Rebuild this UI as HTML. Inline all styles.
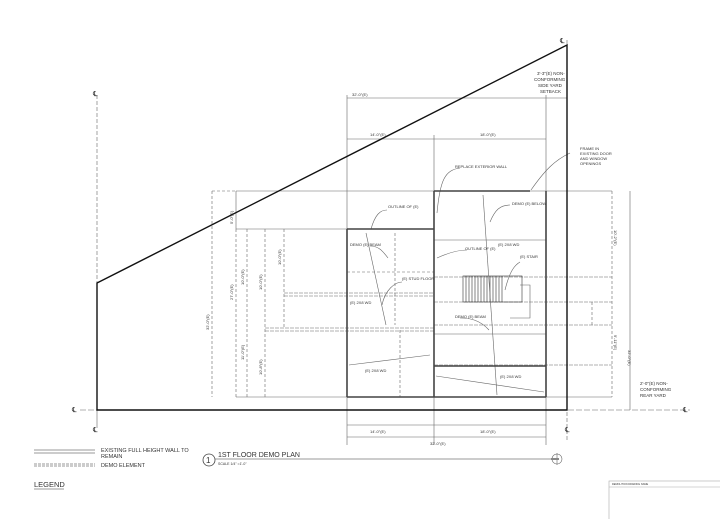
<!DOCTYPE html>
<html><head><style>
html,body{margin:0;padding:0;background:#fff;width:720px;height:519px;overflow:hidden}
svg{display:block}
text{font-family:"Liberation Sans",sans-serif;fill:#333}
</style></head><body>
<svg width="720" height="519" viewBox="0 0 720 519" xmlns="http://www.w3.org/2000/svg">
<g stroke="#666" stroke-width="0.6" fill="none">
<line x1="97" y1="95" x2="97" y2="283" stroke-dasharray="4 2"/>
<line x1="567" y1="40" x2="567" y2="440" stroke-dasharray="4 2"/>
<line x1="80" y1="410" x2="690" y2="410" stroke-dasharray="6 2"/>
<line x1="97" y1="410" x2="97" y2="428"/>
<line x1="347" y1="95" x2="347" y2="445"/>
<line x1="434" y1="135" x2="434" y2="445"/>
<line x1="546" y1="95" x2="546" y2="445"/>
<line x1="347" y1="98" x2="567" y2="98"/>
<line x1="347" y1="139" x2="546" y2="139"/>
<line x1="347" y1="425" x2="546" y2="425"/>
<line x1="347" y1="437" x2="546" y2="437"/>
<line x1="236" y1="191" x2="612" y2="191"/>
<line x1="236" y1="229" x2="434" y2="229"/>
<line x1="236" y1="191" x2="236" y2="229"/>
<line x1="236" y1="397" x2="612" y2="397"/>
<line x1="212" y1="191" x2="212" y2="397" stroke-dasharray="3 2"/>
<line x1="236" y1="229" x2="236" y2="397" stroke-dasharray="3 2"/>
<line x1="247" y1="229" x2="247" y2="397" stroke-dasharray="3 2"/>
<line x1="265" y1="229" x2="265" y2="397" stroke-dasharray="3 2"/>
<line x1="284" y1="229" x2="284" y2="328" stroke-dasharray="3 2"/>
<line x1="212" y1="191" x2="236" y2="191" stroke-dasharray="3 2"/>
<line x1="612" y1="191" x2="612" y2="397" stroke-dasharray="3 2"/>
<line x1="630" y1="191" x2="630" y2="410"/>
<line x1="592" y1="302" x2="592" y2="325" stroke-dasharray="3 2"/>
<line x1="265" y1="328" x2="434" y2="328" stroke-dasharray="4 1"/>
<line x1="265" y1="331" x2="434" y2="331" stroke-dasharray="4 1"/>
<line x1="284" y1="293" x2="434" y2="293" stroke-dasharray="4 1"/>
<line x1="284" y1="296" x2="434" y2="296" stroke-dasharray="4 1"/>
<line x1="434" y1="277" x2="612" y2="277" stroke-dasharray="4 1"/>
<line x1="434" y1="302" x2="612" y2="302" stroke-dasharray="4 1"/>
<line x1="434" y1="325" x2="612" y2="325" stroke-dasharray="4 1"/>
<line x1="434" y1="365" x2="612" y2="365" stroke-dasharray="4 1"/>
<line x1="434" y1="240" x2="546" y2="240"/>
<line x1="434" y1="334" x2="546" y2="334"/>
<line x1="347" y1="272" x2="434" y2="272" stroke-dasharray="3 2"/>
<rect x="463" y="276" width="59" height="26" stroke="#333"/>
<path stroke="#333" d="M466 276v26M469 276v26M472 276v26M475 276v26M478 276v26M481 276v26M484 276v26M487 276v26M490 276v26M493 276v26M496 276v26M499 276v26M502 276v26"/>
<path d="M520 285h10v33h-20"/>
<line x1="483" y1="195" x2="497" y2="395"/>
<line x1="366" y1="233" x2="386" y2="325"/>
<line x1="349" y1="365" x2="430" y2="355"/>
<line x1="436" y1="376" x2="544" y2="392"/>
<line x1="395" y1="233" x2="395" y2="325" stroke-dasharray="3 2"/>
<line x1="400" y1="330" x2="400" y2="397" stroke-dasharray="3 2"/>
<path d="M437 213C440 180 445 170 460 168"/>
<path d="M531 190C545 170 555 160 570 153"/>
<path d="M490 222C495 210 500 205 510 205"/>
<path d="M371 229C375 215 380 210 387 210"/>
<path d="M388 258C382 250 378 246 370 246"/>
<path d="M382 305C385 290 395 282 402 282"/>
<path d="M437 258C450 252 460 250 467 250"/>
<path d="M505 290C510 270 515 265 520 262"/>
<path d="M489 330C480 320 470 318 460 318"/>
</g>
<g stroke="#444" stroke-width="1.6" fill="none">
<line x1="347" y1="229" x2="347" y2="397"/>
<line x1="434" y1="191" x2="434" y2="397"/>
<line x1="546" y1="191" x2="546" y2="397"/>
<line x1="347" y1="229" x2="434" y2="229"/>
<line x1="434" y1="191" x2="530" y2="191"/>
<line x1="347" y1="397" x2="546" y2="397"/>
<line x1="434" y1="366" x2="546" y2="366"/>
</g>
<g stroke="#111" stroke-width="1.4" fill="none">
<path d="M97 283L567 45V410H97Z"/>
</g>
<g font-size="4">
<text x="352" y="96">32'-0"(E)</text>
<text x="370" y="136">14'-0"(E)</text>
<text x="480" y="136">18'-0"(E)</text>
<text x="370" y="433">14'-0"(E)</text>
<text x="480" y="433">18'-0"(E)</text>
<text x="430" y="445">32'-0"(E)</text>
<text x="537" y="75" font-size="4.5">3'-3"(E) NON-</text>
<text x="534" y="81" font-size="4.5">CONFORMING</text>
<text x="538" y="87" font-size="4.5">SIDE YARD</text>
<text x="540" y="93" font-size="4.5">SETBACK</text>
<text x="580" y="150">FRAME IN</text>
<text x="580" y="155">EXISTING DOOR</text>
<text x="580" y="160">AND WINDOW</text>
<text x="580" y="165">OPENINGS</text>
<text x="455" y="168">REPLACE EXTERIOR WALL</text>
<text x="512" y="205">DEMO (E) BELOW</text>
<text x="388" y="208">OUTLINE OF (E)</text>
<text x="350" y="246">DEMO (E) BEAM</text>
<text x="465" y="250">OUTLINE OF (E)</text>
<text x="520" y="258">(E) STAIR</text>
<text x="402" y="280">(E) STUD FLOOR</text>
<text x="455" y="318">DEMO (E) BEAM</text>
<text x="350" y="304">(E) 2X8 WD</text>
<text x="365" y="372">(E) 2X8 WD</text>
<text x="500" y="378">(E) 2X8 WD</text>
<text x="498" y="246">(E) 2X8 WD</text>
<text transform="translate(209,330) rotate(-90)">32'-0"(E)</text>
<text transform="translate(233,300) rotate(-90)">27'-0"(E)</text>
<text transform="translate(233,224) rotate(-90)">5'-0"(E)</text>
<text transform="translate(244,285) rotate(-90)">10'-0"(E)</text>
<text transform="translate(244,360) rotate(-90)">11'-0"(E)</text>
<text transform="translate(262,290) rotate(-90)">10'-0"(E)</text>
<text transform="translate(262,375) rotate(-90)">10'-8"(E)</text>
<text transform="translate(281,265) rotate(-90)">10'-0"(E)</text>
<text transform="translate(628,350) rotate(90)">32'-0"(E)</text>
<text transform="translate(614,230) rotate(90)">10'-2"(E)</text>
<text transform="translate(614,335) rotate(90)">9'-11"(E)</text>
</g>
<g font-size="7" fill="#333">
<text x="93" y="96">℄</text>
<text x="560" y="43">℄</text>
<text x="72" y="412">℄</text>
<text x="93" y="432">℄</text>
<text x="565" y="432">℄</text>
<text x="683" y="412">℄</text>
</g>
<g font-size="4.5">
<text x="640" y="385">2'-0"(E) NON-</text>
<text x="640" y="391">CONFORMING</text>
<text x="640" y="397">REAR YARD</text>
</g>
<g stroke="#777" stroke-width="0.8">
<line x1="34" y1="450" x2="95" y2="450"/>
<line x1="34" y1="453" x2="95" y2="453"/>
<line x1="34" y1="464" x2="95" y2="464" stroke-dasharray="3 1"/>
<line x1="34" y1="466" x2="95" y2="466" stroke-dasharray="3 1"/>
<line x1="215" y1="459" x2="555" y2="459"/>
<line x1="34" y1="489" x2="64" y2="489"/>
</g>
<text x="101" y="452" font-size="5.5">EXISTING FULL HEIGHT WALL TO</text>
<text x="101" y="458" font-size="5.5">REMAIN</text>
<text x="101" y="467" font-size="5.5">DEMO ELEMENT</text>
<text x="34" y="487" font-size="7.5">LEGEND</text>
<circle cx="209" cy="460" r="6" fill="none" stroke="#444" stroke-width="0.8"/>
<text x="206" y="463" font-size="8">1</text>
<text x="218" y="457" font-size="7">1ST FLOOR DEMO PLAN</text>
<text x="218" y="465" font-size="3.5">SCALE 1/4" =1'-0"</text>
<circle cx="557" cy="459" r="5" fill="none" stroke="#666" stroke-width="0.6"/>
<line x1="557" y1="453" x2="557" y2="465" stroke="#666" stroke-width="0.6"/>
<rect x="551" y="458" width="8" height="2" fill="#888"/>
<rect x="609" y="481" width="112" height="40" fill="none" stroke="#aaa" stroke-width="0.6"/>
<line x1="609" y1="487" x2="720" y2="487" stroke="#aaa" stroke-width="0.5"/>
<text x="612" y="485" font-size="2.5">DEMOLITION DRAWING NAME</text>
</svg>
</body></html>
